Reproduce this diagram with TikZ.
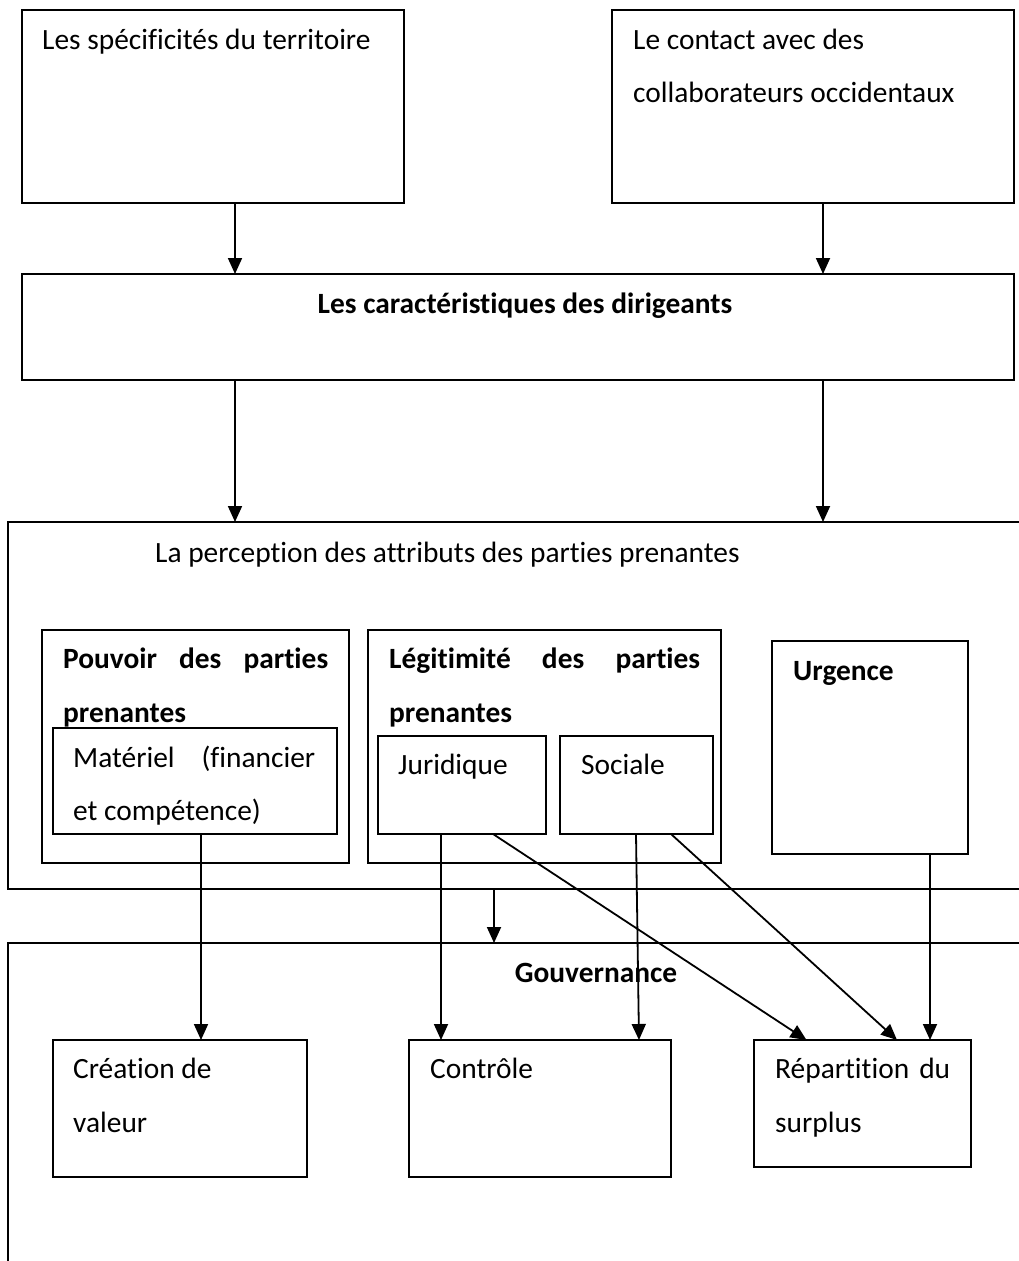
\documentclass[tikz,border=0pt]{standalone}
\usepackage{fontspec}
\setmainfont{Carlito}[Ligatures=NoCommon]
\usetikzlibrary{arrows.meta}
\begin{document}
\begin{tikzpicture}[x=1pt,y=-1pt,
  box/.style={draw,line width=1.8pt,rectangle,inner sep=0pt,outer sep=0pt,anchor=north west},
  txt/.style={anchor=base west,inner sep=0pt,font=\fontsize{29.4}{35}\selectfont},
  btxt/.style={anchor=base west,inner sep=0pt,font=\fontsize{29.4}{35}\selectfont\bfseries},
  arr/.style={line width=1.8pt,-{Triangle[length=16pt,width=14pt]}},
  frame/.style={line width=1.8pt}]
\useasboundingbox (0,0) rectangle (1019,1261);
% top boxes
\node[box,minimum width=382pt,minimum height=193pt] (b1) at (22,10) {};
\node[box,minimum width=402pt,minimum height=193pt] (b2) at (612,10) {};
\node[txt] (t1) at (42,49) {Les spécificités du territoire};
\node[txt] (t2a) at (633,49) {Le contact avec des};
\node[txt] (t2b) at (633,102) {collaborateurs occidentaux};
% dirigeants
\node[box,minimum width=992pt,minimum height=106pt] (b3) at (22,274) {};
\node[btxt,anchor=base] (t3) at (525,313) {Les caractéristiques des dirigeants};
\draw[arr] ([xshift=22pt]b1.south) -- ([xshift=-283pt]b3.north);
\draw[arr] ([xshift=10pt]b2.south) -- ([xshift=305pt]b3.north);
% perception frame (open on the right)
\draw[frame] (1019,522) -- (8,522) -- (8,889) -- (1019,889);
\coordinate (p1) at (235,522);
\coordinate (p2) at (823,522);
\coordinate (pb) at (494,889);
\draw[arr] ([xshift=-283pt]b3.south) -- (p1);
\draw[arr] ([xshift=305pt]b3.south) -- (p2);
\node[txt] (t4) at (155,562) {La perception des attributs des parties prenantes};
% pouvoir
\node[box,minimum width=307pt,minimum height=233pt] (pv) at (42,630) {};
\node[btxt] (tpv1) at (63,668) {\hbox to 265pt{Pouvoir\hfill des\hfill parties}};
\node[btxt] (tpv2) at (63,722) {prenantes};
\node[box,minimum width=284pt,minimum height=106pt,fill=white] (mat) at (53,728) {};
\node[txt] (tmat1) at (73,767) {\hbox to 242pt{Matériel\hfill (financier}};
\node[txt] (tmat2) at (73,820) {et compétence)};
% legitimite
\node[box,minimum width=353pt,minimum height=233pt] (lg) at (368,630) {};
\node[btxt] (tlg1) at (389,668) {\hbox to 311pt{Légitimité\hfill des\hfill parties}};
\node[btxt] (tlg2) at (389,722) {prenantes};
\node[box,minimum width=168pt,minimum height=98pt] (jur) at (378,736) {};
\node[txt] (tjur) at (398,774) {Juridique};
\node[box,minimum width=153pt,minimum height=98pt] (soc) at (560,736) {};
\node[txt] (tsoc) at (581,774) {Sociale};
% urgence
\node[box,minimum width=196pt,minimum height=213pt] (urg) at (772,641) {};
\node[btxt] (turg) at (793,680) {Urgence};
% gouvernance frame
\draw[frame] (1019,943) -- (8,943) -- (8,1261);
\coordinate (gt) at (494,943);
\draw[arr] (pb) -- (gt);
\node[btxt,anchor=base] (tg) at (596,982) {Gouvernance};
\node[box,minimum width=254pt,minimum height=137pt] (cre) at (53,1040) {};
\node[txt] (tcre1) at (73,1078) {Création de};
\node[txt] (tcre2) at (73,1132) {valeur};
\node[box,minimum width=262pt,minimum height=137pt] (ctl) at (409,1040) {};
\node[txt] (tctl) at (430,1078) {Contrôle};
\node[box,minimum width=217pt,minimum height=127pt] (rep) at (754,1040) {};
\node[txt] (trep1) at (775,1078) {\hbox to 175pt{Répartition\hfill du}};
\node[txt] (trep2) at (775,1132) {surplus};
% arrows to governance boxes
\draw[arr] ([xshift=6pt]mat.south) -- ([xshift=21pt]cre.north);
\draw[arr] ([xshift=-21pt]jur.south) -- ([xshift=-99pt]ctl.north);
\draw[arr] ([xshift=31pt]jur.south) -- ([xshift=-56pt]rep.north);
\draw[arr] ([xshift=-0.5pt]soc.south) -- ([xshift=99pt]ctl.north);
\draw[arr] ([xshift=34.5pt]soc.south) -- ([xshift=34.5pt]rep.north);
\draw[arr] ([xshift=60pt]urg.south) -- ([xshift=67.5pt]rep.north);
\end{tikzpicture}
\end{document}
